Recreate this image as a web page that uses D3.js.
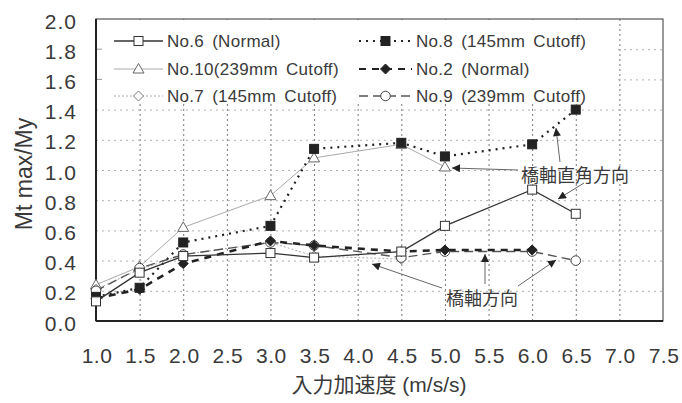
<!DOCTYPE html>
<html>
<head>
<meta charset="utf-8">
<script src="https://cdn.jsdelivr.net/npm/d3@7"></script>
<style>
  body { margin: 0; background: #fff; }
  svg text { font-family: "Liberation Sans", Arial, "Noto Sans CJK JP", sans-serif; fill: #3a3a3a; }
</style>
</head>
<body>
<div id="chart"></div>
<script>
// x ticks and y ticks
const xTicks = [1.0, 1.5, 2.0, 2.5, 3.0, 3.5, 4.0, 4.5, 5.0, 5.5, 6.0, 6.5, 7.0, 7.5];
const yTicks = [0.0, 0.2, 0.4, 0.6, 0.8, 1.0, 1.2, 1.4, 1.6, 1.8, 2.0];

// series values
const no6X = [1.0, 1.5, 2.0, 3.0, 3.5, 4.5, 5.0, 6.0, 6.5];
const no6Y = [0.13, 0.32, 0.43, 0.45, 0.42, 0.46, 0.63, 0.87, 0.71];

const no8X = [1.0, 1.5, 2.0, 3.0, 3.5, 4.5, 5.0, 6.0, 6.5];
const no8Y = [0.16, 0.22, 0.52, 0.63, 1.14, 1.18, 1.09, 1.17, 1.40];

const no10X = [1.0, 1.5, 2.0, 3.0, 3.5, 4.5, 5.0];
const no10Y = [0.24, 0.36, 0.62, 0.83, 1.08, 1.17, 1.02];

const no2X = [1.0, 1.5, 2.0, 3.0, 3.5, 4.5, 5.0, 6.0];
const no2Y = [0.15, 0.21, 0.38, 0.53, 0.50, 0.46, 0.47, 0.47];

const no7X = [1.0, 1.5, 2.0, 3.0, 3.5, 4.5];
const no7Y = [0.21, 0.34, 0.44, 0.52, 0.43, 0.41];

const no9X = [1.0, 1.5, 2.0, 3.0, 3.5, 4.5, 5.0, 6.0, 6.5];
const no9Y = [0.20, 0.35, 0.44, 0.52, 0.50, 0.42, 0.46, 0.46, 0.40];

const seriesNames = ['No.6 (Normal)', 'No.10(239mm Cutoff)', 'No.7 (145mm Cutoff)',
                     'No.8 (145mm Cutoff)', 'No.2 (Normal)', 'No.9 (239mm Cutoff)'];

const series = [
  { name: seriesNames[0], xs: no6X, ys: no6Y, stroke: '#333', width: 1.3, dash: null, marker: 'square', fill: '#fff' },
  { name: seriesNames[1], xs: no10X, ys: no10Y, stroke: '#aaa', width: 1, dash: null, marker: 'triangle', fill: '#fff' },
  { name: seriesNames[2], xs: no7X, ys: no7Y, stroke: '#aaa', width: 1, dash: '2,2', marker: 'diamond', fill: '#fff' },
  { name: seriesNames[3], xs: no8X, ys: no8Y, stroke: '#222', width: 2.2, dash: '2,5', marker: 'square', fill: '#222' },
  { name: seriesNames[4], xs: no2X, ys: no2Y, stroke: '#222', width: 2.6, dash: '7,6', marker: 'diamond', fill: '#222' },
  { name: seriesNames[5], xs: no9X, ys: no9Y, stroke: '#555', width: 1.4, dash: '9,5', marker: 'circle', fill: '#fff' },
];

const width = 682, height = 403;
const plot = { left: 96, right: 663, top: 19, bottom: 321 };

const svg = d3.select('#chart').append('svg')
  .attr('width', width).attr('height', height);

const defs = svg.append('defs');
defs.append('marker')
  .attr('id', 'arrow')
  .attr('viewBox', '0 0 10 10')
  .attr('refX', 10).attr('refY', 5)
  .attr('markerWidth', 14).attr('markerHeight', 8)
  .attr('markerUnits', 'userSpaceOnUse')
  .attr('orient', 'auto')
  .append('path').attr('d', 'M0,0 L10,5 L0,10 Z').attr('fill', '#222');

const xScale = d3.scaleLinear().domain([1.0, 7.5]).range([plot.left, plot.right]);
const yScale = d3.scaleLinear().domain([0, 2]).range([plot.bottom, plot.top]);

// gridlines
svg.append('g')
  .attr('transform', `translate(0, ${plot.bottom})`)
  .call(d3.axisBottom(xScale).tickValues(xTicks.slice(1, -1)).tickFormat('').tickSize(-(plot.bottom - plot.top)))
  .call((g) => g.select('.domain').remove())
  .selectAll('line').attr('stroke', '#777').attr('stroke-dasharray', '2,3');

svg.append('g')
  .attr('transform', `translate(${plot.left}, 0)`)
  .call(d3.axisLeft(yScale).tickValues(yTicks.slice(1, -1)).tickFormat('').tickSize(-(plot.right - plot.left)))
  .call((g) => g.select('.domain').remove())
  .selectAll('line').attr('stroke', '#b0b0b0').attr('stroke-dasharray', '2,4');

// legend background hides gridlines
svg.append('rect')
  .attr('x', plot.left + 1).attr('y', plot.top + 1)
  .attr('width', 520).attr('height', 82)
  .attr('fill', '#fff');

// small ticks left of legend area
svg.append('g').selectAll('line')
  .data([1.6, 1.8]).join('line')
  .attr('x1', plot.left).attr('x2', plot.left + 6)
  .attr('y1', (d) => yScale(d)).attr('y2', (d) => yScale(d))
  .attr('stroke', '#999');

// frame
svg.append('rect')
  .attr('x', plot.left).attr('y', plot.top)
  .attr('width', plot.right - plot.left).attr('height', plot.bottom - plot.top)
  .attr('fill', 'none').attr('stroke', '#555').attr('stroke-width', 1.2);
svg.append('line')
  .attr('x1', plot.left).attr('x2', plot.left)
  .attr('y1', plot.top).attr('y2', plot.bottom)
  .attr('stroke', '#222').attr('stroke-width', 2);
svg.append('line')
  .attr('x1', plot.left).attr('x2', plot.right)
  .attr('y1', plot.bottom).attr('y2', plot.bottom)
  .attr('stroke', '#222').attr('stroke-width', 2);

// tick labels
svg.append('g').selectAll('text')
  .data(yTicks).join('text')
  .attr('x', 77).attr('y', (d) => yScale(d) + 2)
  .attr('text-anchor', 'end').attr('dominant-baseline', 'central')
  .style('font-size', '21px').style('letter-spacing', '1px')
  .text((d) => d.toFixed(1));

svg.append('g').selectAll('text')
  .data(xTicks).join('text')
  .attr('x', (d) => xScale(d) + 1).attr('y', 355)
  .attr('text-anchor', 'middle').attr('dominant-baseline', 'central')
  .style('font-size', '21px').style('letter-spacing', '0.5px')
  .text((d) => d.toFixed(1));

// axis titles
svg.append('text')
  .attr('transform', 'translate(24, 174) rotate(-90)')
  .attr('text-anchor', 'middle').attr('dominant-baseline', 'central')
  .style('font-size', '23px')
  .text('Mt max/My');

svg.append('text')
  .attr('x', 379).attr('y', 384)
  .attr('text-anchor', 'middle').attr('dominant-baseline', 'central')
  .style('font-size', '21px')
  .text('入力加速度 (m/s/s)');

// marker drawing
function drawMarker(g, type, x, y, fill, stroke) {
  if (type === 'square') {
    g.append('rect').attr('x', x - 4.5).attr('y', y - 4.5).attr('width', 9).attr('height', 9)
      .attr('fill', fill).attr('stroke', stroke).attr('stroke-width', 1);
  } else if (type === 'triangle') {
    g.append('path').attr('d', `M${x},${y - 5.5} L${x + 5.5},${y + 4} L${x - 5.5},${y + 4} Z`)
      .attr('fill', fill).attr('stroke', '#666').attr('stroke-width', 1);
  } else if (type === 'diamond') {
    g.append('path').attr('d', `M${x},${y - 5} L${x + 5},${y} L${x},${y + 5} L${x - 5},${y} Z`)
      .attr('fill', fill).attr('stroke', fill === '#fff' ? '#777' : stroke).attr('stroke-width', 1);
  } else {
    g.append('circle').attr('cx', x).attr('cy', y).attr('r', 4.8)
      .attr('fill', fill).attr('stroke', '#444').attr('stroke-width', 1);
  }
}

const line = d3.line().x((d) => xScale(d[0])).y((d) => yScale(d[1]));

// draw series
const drawOrder = [1, 2, 5, 4, 3, 0];
drawOrder.forEach((i) => {
  const s = series[i];
  const pts = s.xs.map((x, k) => [x, s.ys[k]]);
  svg.append('path')
    .datum(pts)
    .attr('d', line)
    .attr('fill', 'none')
    .attr('stroke', s.stroke)
    .attr('stroke-width', s.width)
    .attr('stroke-dasharray', s.dash);
  const g = svg.append('g');
  pts.forEach((p) => drawMarker(g, s.marker, xScale(p[0]), yScale(p[1]), s.fill, s.stroke));
});

// legend
const legendRows = [41, 69, 96];
series.forEach((s, i) => {
  const col = Math.floor(i / 3);
  const row = i % 3;
  const x0 = col === 0 ? 114 : 359;
  const len = col === 0 ? 49 : 53;
  const y0 = legendRows[row];
  const g = svg.append('g');
  g.append('line')
    .attr('x1', x0).attr('x2', x0 + len).attr('y1', y0).attr('y2', y0)
    .attr('stroke', s.stroke).attr('stroke-width', Math.min(s.width, 2.2))
    .attr('stroke-dasharray', s.dash);
  drawMarker(g, s.marker, x0 + len / 2, y0, s.fill, s.stroke);
  g.append('text')
    .attr('x', x0 + len + 4).attr('y', y0)
    .attr('dominant-baseline', 'central')
    .style('font-size', '17px').style('letter-spacing', '0.3px')
    .style('word-spacing', '3px')
    .text(s.name);
});

// annotations
svg.append('text')
  .attr('x', 575).attr('y', 174)
  .attr('text-anchor', 'middle').attr('dominant-baseline', 'central')
  .style('font-size', '18px').style('font-family', '"Noto Sans CJK JP", sans-serif')
  .text('橋軸直角方向');

svg.append('text')
  .attr('x', 482).attr('y', 297)
  .attr('text-anchor', 'middle').attr('dominant-baseline', 'central')
  .style('font-size', '18px').style('font-family', '"Noto Sans CJK JP", sans-serif')
  .text('橋軸方向');

const arrows = [
  [518, 170, 452, 168],
  [560, 162, 556, 128],
  [584, 183, 558, 199],
  [442, 288, 372, 264],
  [485, 284, 485, 254],
  [518, 286, 556, 260],
];
svg.append('g').selectAll('line')
  .data(arrows).join('line')
  .attr('x1', (d) => d[0]).attr('y1', (d) => d[1])
  .attr('x2', (d) => d[2]).attr('y2', (d) => d[3])
  .attr('stroke', '#666').attr('stroke-width', 1)
  .attr('marker-end', 'url(#arrow)');
</script>
</body>
</html>
